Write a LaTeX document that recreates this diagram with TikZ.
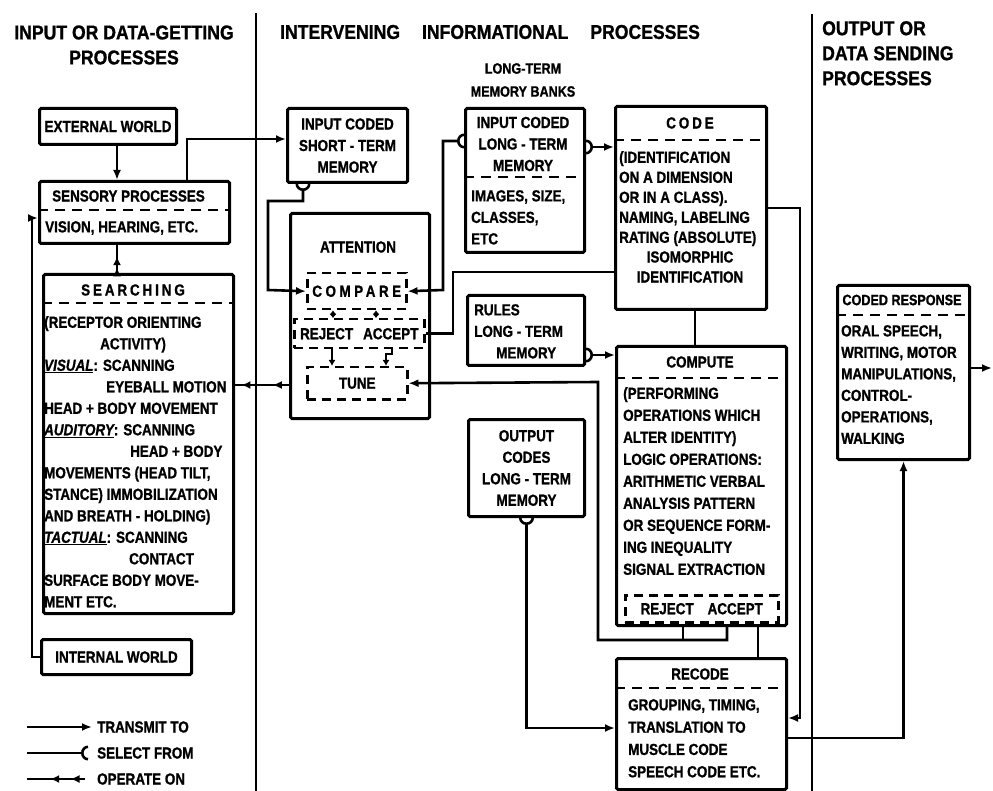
\documentclass[tikz,border=0pt]{standalone}
\usepackage{fontspec}
\setmainfont{Liberation Sans}[FakeStretch=0.84, FakeBold=1]
\newfontfamily\hfont{Liberation Sans}[FakeStretch=0.88, FakeBold=1]
\usetikzlibrary{arrows.meta,decorations.markings}
\tikzset{
 box/.style={draw, line width=3pt, inner sep=0pt, rounded corners=1.5pt},
 dbox/.style={draw, line width=2.5pt, dash pattern=on 9pt off 6pt, inner sep=0pt},
 dsh/.style={line width=2.5pt, dash pattern=on 10pt off 7pt},
 conn/.style={line width=2.6pt},
 tr/.style={conn, -{Latex[length=10pt,width=8pt]}},
 selE/.style={conn, -{Arc Barb[reversed,length=7pt,width=15pt]}},
 selS/.style={conn, {Arc Barb[reversed,length=7pt,width=15pt]}-{Latex[length=10pt,width=8pt]}},
 op/.style 2 args={conn, postaction={decorate},
   decoration={markings, mark=at position #1 with {\arrow{Latex[length=9pt,width=8pt]}},
     mark=at position #2 with {\arrow{Latex[length=9pt,width=8pt]}}}},
 tick/.style={line width=2pt, {Latex[length=4pt,width=7pt]}-{Latex[length=4pt,width=7pt]}},
 bt/.style={inner sep=0pt, font=\fontsize{16}{21.5}\selectfont\bfseries},
 ht/.style={inner sep=0pt, font=\hfont\fontsize{20}{25}\selectfont\bfseries},
 st/.style={inner sep=0pt, font=\fontsize{15}{23}\selectfont\bfseries},
}
\begin{document}
\begin{tikzpicture}[x=1pt,y=-1pt]
\fill[white] (0,0) rectangle (993,791);
\useasboundingbox (0,0) rectangle (993,791);

% dividers
\draw[line width=2.6pt] (256,13) -- (256,791);
\draw[line width=2.6pt] (812,14) -- (812,791);

% headers
\node[ht, align=center] (h1) at (124,45) {INPUT OR DATA-GETTING\\PROCESSES};
\node[ht] (h2) at (490,32) {INTERVENING\hspace{22pt}INFORMATIONAL\hspace{22pt}PROCESSES};
\node[ht, align=left, anchor=north west] (h3) at (822,21) {OUTPUT OR\\DATA SENDING\\PROCESSES};
\node[st, align=center] (h4) at (523,80) {LONG-TERM\\MEMORY BANKS};

% boxes
\node[box, bt, anchor=north west, minimum width=137pt, minimum height=36pt] (ext) at (38,107) {EXTERNAL WORLD};
\node[box, anchor=north west, minimum width=190pt, minimum height=62pt] (sens) at (38,180) {};
\node[box, anchor=north west, minimum width=190pt, minimum height=339pt] (srch) at (42,273) {};
\node[box, bt, anchor=north west, minimum width=150pt, minimum height=35pt] (intw) at (40,638) {INTERNAL WORLD};
\node[box, bt, align=center, anchor=north west, minimum width=120pt, minimum height=74pt] (stm) at (286,107) {INPUT CODED\\SHORT - TERM\\MEMORY};
\node[box, anchor=north west, minimum width=139pt, minimum height=205pt] (att) at (289,212) {};
\node[dbox, bt, anchor=north west, minimum width=99pt, minimum height=36pt] (cmp) at (306,272) {\addfontfeature{LetterSpace=22}COMPARE};
\node[dbox, bt, anchor=north west, minimum width=130pt, minimum height=29pt] (ra) at (293,318) {REJECT\hspace{10pt}ACCEPT};
\node[dbox, bt, anchor=north west, minimum width=100pt, minimum height=32pt] (tune) at (306,366) {TUNE};
\node[box, anchor=north west, minimum width=119pt, minimum height=144pt] (ltm) at (464,107) {};
\node[box, anchor=north west, minimum width=151pt, minimum height=203pt] (code) at (614,105) {};
\node[box, anchor=north west, minimum width=117pt, minimum height=70pt] (rules) at (466,294) {};
\node[box, anchor=north west, minimum width=170pt, minimum height=279pt] (comp) at (615,345) {};
\node[dbox, bt, anchor=north west, minimum width=153pt, minimum height=27pt] (ra2) at (624,594) {REJECT\hspace{14pt}ACCEPT};
\node[box, bt, align=center, anchor=north west, minimum width=116pt, minimum height=97pt] (ocm) at (467,418) {OUTPUT\\CODES\\LONG - TERM\\MEMORY};
\node[box, anchor=north west, minimum width=170pt, minimum height=131pt] (rec) at (615,657) {};
\node[box, anchor=north west, minimum width=132pt, minimum height=174pt] (cresp) at (836,284) {};

% dashed dividers
\draw[dsh] (sens.west |- 0,210) -- (sens.east |- 0,210);
\draw[dsh] (srch.west |- 0,303) -- (srch.east |- 0,303);
\draw[dsh] (ltm.west |- 0,177) -- (ltm.east |- 0,177);
\draw[dsh] (code.west |- 0,140) -- (code.east |- 0,140);
\draw[dsh] (comp.west |- 0,378) -- (comp.east |- 0,378);
\draw[dsh] (rec.west |- 0,688) -- (rec.east |- 0,688);
\draw[dsh] (cresp.west |- 0,315) -- (cresp.east |- 0,315);

% box texts
\node[bt, anchor=west] (sensH) at (52,196) {SENSORY PROCESSES};
\node[bt, anchor=west] (sensB) at (45,228) {VISION, HEARING, ETC.};
\node[bt] (srchH) at (133,290) {\addfontfeature{LetterSpace=18}SEARCHING};
\node[bt, align=left, anchor=north west] (srchB) at (44,316) {(RECEPTOR ORIENTING\\
\hspace*{56pt}ACTIVITY)\\
\underline{\itshape VISUAL}: SCANNING\\
\hspace*{62pt}EYEBALL MOTION\\
HEAD + BODY MOVEMENT\\
\underline{\itshape AUDITORY}: SCANNING\\
\hspace*{86pt}HEAD + BODY\\
MOVEMENTS (HEAD TILT,\\
STANCE) IMMOBILIZATION\\
AND BREATH - HOLDING)\\
\underline{\itshape TACTUAL}: SCANNING\\
\hspace*{85pt}CONTACT\\
SURFACE BODY MOVE-\\
MENT ETC.};
\node[bt] (attT) at (358,247) {ATTENTION};
\node[bt, align=center] (ltmH) at (523,144) {INPUT CODED\\LONG - TERM\\MEMORY};
\node[bt, align=left, anchor=north west] (ltmB) at (471,190) {IMAGES, SIZE,\\CLASSES,\\ETC};
\node[bt] (codeH) at (690,123) {\addfontfeature{LetterSpace=18}CODE};
\node[bt, align=left, anchor=north west, font=\fontsize{16}{20}\selectfont\bfseries] (codeB) at (619,151) {(IDENTIFICATION\\ON A DIMENSION\\OR IN A CLASS).\\NAMING, LABELING\\RATING (ABSOLUTE)};
\node[bt, align=center, font=\fontsize{16}{20}\selectfont\bfseries] (codeC) at (690,267) {ISOMORPHIC\\IDENTIFICATION};
\node[bt, align=left, anchor=north west] (rulesT) at (474,304) {RULES\\LONG - TERM\\\hspace*{22pt}MEMORY};
\node[bt] (compH) at (700,362) {COMPUTE};
\node[bt, align=left, anchor=north west, font=\fontsize{16}{22}\selectfont\bfseries] (compB) at (623,387) {(PERFORMING\\OPERATIONS WHICH\\ALTER IDENTITY)\\LOGIC OPERATIONS:\\ARITHMETIC VERBAL\\ANALYSIS PATTERN\\OR SEQUENCE FORM-\\ING INEQUALITY\\SIGNAL EXTRACTION};
\node[bt] (recH) at (700,674) {RECODE};
\node[bt, align=left, anchor=north west, font=\fontsize{16}{22.3}\selectfont\bfseries] (recB) at (628,699) {GROUPING, TIMING,\\TRANSLATION TO\\MUSCLE CODE\\SPEECH CODE ETC.};
\node[bt, font=\fontsize{15}{20}\selectfont\bfseries] (crespH) at (902,300) {CODED RESPONSE};
\node[bt, align=left, anchor=north west] (crespB) at (841,325) {ORAL SPEECH,\\WRITING, MOTOR\\MANIPULATIONS,\\CONTROL-\\OPERATIONS,\\WALKING};

% connectors
\draw[tr] ([xshift=79pt]ext.south west) -- ([xshift=79pt]ext.south west |- sens.north);
\draw[op={0.2}{0.6}] ([xshift=75pt]srch.north west) -- ([xshift=75pt]srch.north west |- sens.south);
\draw[tr] (intw.west) -| (32,218) -- (sens.west |- 32,218);
\draw[tr] ([xshift=149pt]sens.north west) |- (stm.west |- 0,139);
\draw[selS] ([xshift=17pt]stm.south west) -- ([xshift=17pt]stm.south west |- 0,201) -| (268,290) -- (cmp.west);
\draw[selS] (ltm.west |- 0,141) -| (443,290) -- (cmp.east);
\draw[conn] (ra.east) -| (453,272) -- (code.west |- 453,272);
\draw[tick] ([xshift=27pt]cmp.south west) -- ([xshift=27pt]cmp.south west |- ra.north);
\draw[tick] ([xshift=70pt]cmp.south west) -- ([xshift=70pt]cmp.south west |- ra.north);
\draw[conn, -{Latex[length=6pt,width=7pt]}] ([xshift=39pt]ra.south west) -- ([xshift=26pt]tune.north west);
\draw[conn, -{Latex[length=6pt,width=7pt]}] ([xshift=99pt]ra.south west) -- ([xshift=99pt]ra.south west |- 0,354) -| ([xshift=80pt]tune.north west);
\draw[op={0.3}{0.88}] (att.west |- 0,385) -- (srch.east |- 0,385);
\draw[selS] (ltm.east |- 0,147) -- (code.west |- 0,147);
\draw[tr] (code.east |- 0,208) -| (800,718) -- (rec.east |- 0,718);
\draw[conn] ([xshift=81pt]code.south west) -- ([xshift=81pt]code.south west |- comp.north);
\draw[selS] (rules.east |- 0,355) -- (comp.west |- 0,355);
\draw[tr] ([xshift=112pt]comp.south west) -- ([xshift=112pt]comp.south west |- 0,640) -| (598,382) -- (tune.east);
\draw[conn] ([xshift=68pt]comp.south west) -- ([xshift=68pt]comp.south west |- 0,640);
\draw[conn] ([xshift=143pt]comp.south west) -- ([xshift=143pt]comp.south west |- rec.north);
\draw[selS] (ocm.south) |- (rec.west |- 0,728);
\draw[tr] (rec.east |- 0,738) -| (cresp.south);
\coordinate (outR) at (992,368);
\draw[tr] (cresp.east |- outR) -- (outR);

% legend
\coordinate (l1a) at (27,727); \coordinate (l1b) at (92,727);
\coordinate (l2a) at (27,753); \coordinate (l2b) at (88,753);
\coordinate (l3a) at (85,779); \coordinate (l3b) at (27,779);
\draw[tr] (l1a) -- (l1b);
\draw[selE] (l2a) -- (l2b);
\draw[op={0.25}{0.6}] (l3a) -- (l3b);
\node[bt, anchor=west] (lg1) at (97,727) {TRANSMIT TO};
\node[bt, anchor=west] (lg2) at (97,753) {SELECT FROM};
\node[bt, anchor=west] (lg3) at (97,779) {OPERATE ON};
\end{tikzpicture}
\end{document}
